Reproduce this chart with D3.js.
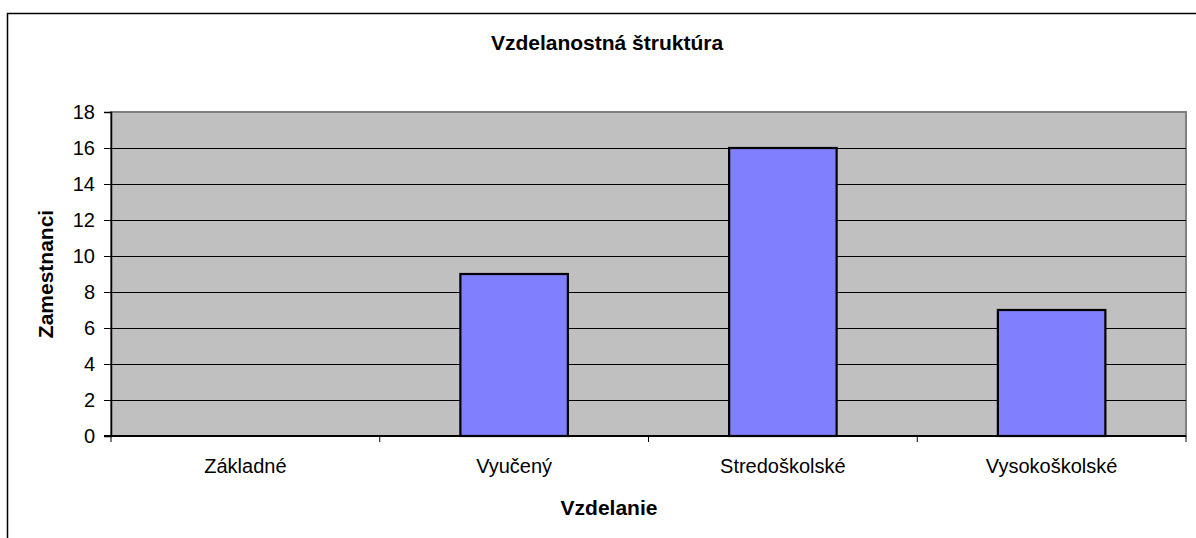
<!DOCTYPE html>
<html>
<head>
<meta charset="utf-8">
<script src="https://cdn.jsdelivr.net/npm/d3@7"></script>
<style>
  body { margin: 0; background: #fff; }
  svg text { font-family: "Liberation Sans", Arial, sans-serif; fill: #000; }
</style>
</head>
<body>
<div id="chart"></div>
<script>
var categories = ["Základné", "Vyučený", "Stredoškolské", "Vysokoškolské"];
var values = [0, 9, 16, 7];
var yTicks = [0, 2, 4, 6, 8, 10, 12, 14, 16, 18];

var width = 1196, height = 538;
var plot = {left: 111, right: 1186, top: 112, bottom: 436};

var svg = d3.select("#chart").append("svg")
			.attr("width", width)
			.attr("height", height);

// outer chart border (runs off the right and bottom edge)
svg.append("rect")
	.attr("x", 7.5)
	.attr("y", 13.5)
	.attr("width", 1210)
	.attr("height", 540)
	.attr("fill", "#fff")
	.attr("stroke", "#000")
	.attr("stroke-width", 1.5);

var x = d3.scaleBand()
		.domain(categories)
		.range([plot.left, plot.right])
		.paddingInner(0.6)
		.paddingOuter(0.3);

var y = d3.scaleLinear()
		.domain([0, 18])
		.range([plot.bottom, plot.top]);

// plot background
svg.append("rect")
	.attr("x", plot.left)
	.attr("y", plot.top)
	.attr("width", plot.right - plot.left)
	.attr("height", plot.bottom - plot.top)
	.attr("fill", "#c0c0c0")
	.attr("stroke", "#808080")
	.attr("stroke-width", 2);

// gridlines
svg.append("g")
	.selectAll("line")
	.data(yTicks.filter(function(d){ return d > 0 && d < 18; }))
	.enter().append("line")
	.attr("x1", plot.left)
	.attr("x2", plot.right)
	.attr("y1", function(d){ return y(d) + 0.5; })
	.attr("y2", function(d){ return y(d) + 0.5; })
	.attr("stroke", "#000")
	.attr("stroke-width", 1);

// bars (zero values draw nothing)
var barData = categories.map(function(c, i){ return {cat: c, val: values[i]}; })
				.filter(function(d){ return d.val > 0; });

svg.append("g")
	.selectAll("rect")
	.data(barData)
	.enter().append("rect")
	.attr("x", function(d){ return x(d.cat); })
	.attr("y", function(d){ return y(d.val); })
	.attr("width", x.bandwidth())
	.attr("height", function(d){ return plot.bottom - y(d.val); })
	.attr("fill", "#8080ff")
	.attr("stroke", "#000")
	.attr("stroke-width", 2.2);

// y axis
var yAxis = d3.axisLeft(y)
			.tickValues(yTicks)
			.tickSize(7)
			.tickPadding(9);
var yG = svg.append("g")
		.attr("transform", "translate(" + plot.left + ",0)")
		.call(yAxis);
yG.select(".domain").attr("stroke", "#000").attr("stroke-width", 1.5);
yG.selectAll(".tick line").attr("stroke", "#000");
yG.selectAll(".tick text")
	.attr("font-size", 20)
	.style("font-family", "'Liberation Sans', Arial, sans-serif")
	.attr("fill", "#000");

// x axis baseline
svg.append("line")
	.attr("x1", plot.left - 7)
	.attr("x2", plot.right)
	.attr("y1", plot.bottom)
	.attr("y2", plot.bottom)
	.attr("stroke", "#000")
	.attr("stroke-width", 2);

// category boundary ticks
svg.append("g")
	.selectAll("line")
	.data(d3.range(categories.length + 1))
	.enter().append("line")
	.attr("x1", function(i){ return plot.left + i * x.step(); })
	.attr("x2", function(i){ return plot.left + i * x.step(); })
	.attr("y1", plot.bottom)
	.attr("y2", plot.bottom + 6)
	.attr("stroke", "#000")
	.attr("stroke-width", 1);

// category labels
svg.append("g")
	.selectAll("text")
	.data(categories)
	.enter().append("text")
	.attr("x", function(d){ return x(d) + x.bandwidth() / 2; })
	.attr("y", 473)
	.attr("text-anchor", "middle")
	.attr("font-size", 20)
	.text(function(d){ return d; });

// title
svg.append("text")
	.attr("x", 607)
	.attr("y", 50)
	.attr("text-anchor", "middle")
	.attr("font-size", 21)
	.attr("font-weight", "bold")
	.text("Vzdelanostná štruktúra");

// axis titles
svg.append("text")
	.attr("x", 609)
	.attr("y", 515)
	.attr("text-anchor", "middle")
	.attr("font-size", 21)
	.attr("font-weight", "bold")
	.text("Vzdelanie");

svg.append("text")
	.attr("transform", "translate(53,274) rotate(-90)")
	.attr("text-anchor", "middle")
	.attr("font-size", 21)
	.attr("font-weight", "bold")
	.text("Zamestnanci");
</script>
</body>
</html>
